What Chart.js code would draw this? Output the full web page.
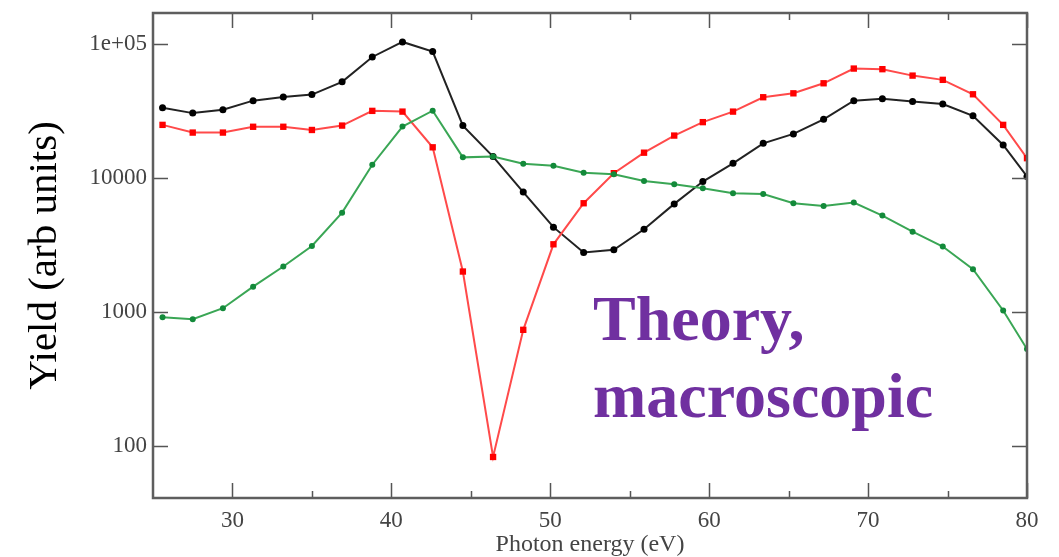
<!DOCTYPE html>
<html>
<head>
<meta charset="utf-8">
<title>Yield vs photon energy</title>
<script src="https://cdn.jsdelivr.net/npm/chart.js@4.4.1/dist/chart.umd.min.js"></script>
<style>
  html, body { margin: 0; padding: 0; background: #fff; }
  #wrap { width: 1059px; height: 557px; }
</style>
</head>
<body>
<div id="wrap"><canvas id="c" width="1059" height="557"></canvas></div>
<script>
// photon energy grid (eV)
const energies = [25.6, 27.5, 29.4, 31.3, 33.2, 35.0, 36.9, 38.8, 40.7, 42.6,
                  44.5, 46.4, 48.3, 50.2, 52.1, 54.0, 55.9, 57.8, 59.6, 61.5,
                  63.4, 65.3, 67.2, 69.1, 70.9, 72.8, 74.7, 76.6, 78.5, 80.0]

// yields (arb units)
const blackYield = [33600, 30600, 32400, 37900, 40400, 42100, 52400, 80300, 104000, 88100,
                    24700, 14500, 7870, 4310, 2790, 2920, 4160, 6430, 9440, 12900,
                    18200, 21400, 27500, 37900, 39100, 37300, 35800, 29200, 17700, 10300]
const redYield   = [25000, 21900, 21900, 24200, 24200, 22900, 24700, 31800, 31400, 17000,
                    2010, 83, 738, 3210, 6500, 10900, 15500, 20800, 26200, 31400,
                    40200, 43000, 51100, 65800, 65100, 58300, 54200, 42300, 25000, 14100]
const greenYield = [918, 887, 1070, 1550, 2190, 3120, 5530, 12600, 24300, 31900,
                    14300, 14500, 12800, 12400, 11000, 10700, 9540, 9020, 8410, 7720,
                    7630, 6500, 6210, 6580, 5260, 3990, 3090, 2090, 1030, 530]

const xMajorTicks = [30, 40, 50, 60, 70, 80]
const xMinorTicks = [35, 45, 55, 65, 75]
const yMajorTicks = [100, 1000, 10000, 100000]
const yTickLabels = ['100', '1000', '10000', '1e+05']

const serif = '"Liberation Serif", "DejaVu Serif", serif'

function pts(ys) {
  return energies.map((x, i) => ({ x: x, y: ys[i] }))
}

// inward tick marks + frame, grace style
const frameTicks = {
  id: 'frameTicks',
  afterDraw(chart) {
    const ctx = chart.ctx
    const a = chart.chartArea
    const xs = chart.scales.x
    const ys = chart.scales.y
    ctx.save()
    ctx.strokeStyle = '#555'
    ctx.lineWidth = 1.5
    ctx.beginPath()
    xMajorTicks.forEach(v => {
      const px = Math.round(xs.getPixelForValue(v)) + 0.5
      ctx.moveTo(px, a.bottom); ctx.lineTo(px, a.bottom - 15)
      ctx.moveTo(px, a.top); ctx.lineTo(px, a.top + 15)
    })
    xMinorTicks.forEach(v => {
      const px = Math.round(xs.getPixelForValue(v)) + 0.5
      ctx.moveTo(px, a.bottom); ctx.lineTo(px, a.bottom - 7)
      ctx.moveTo(px, a.top); ctx.lineTo(px, a.top + 7)
    })
    yMajorTicks.forEach(v => {
      const py = Math.round(ys.getPixelForValue(v)) + 0.5
      ctx.moveTo(a.left, py); ctx.lineTo(a.left + 15, py)
      ctx.moveTo(a.right, py); ctx.lineTo(a.right - 15, py)
    })
    ctx.stroke()

    ctx.lineWidth = 2.5
    ctx.strokeStyle = '#5e5e5e'
    ctx.strokeRect(a.left, a.top, a.right - a.left, a.bottom - a.top)

    // annotation
    ctx.fillStyle = '#7030a0'
    ctx.font = 'bold 64px ' + serif
    ctx.textAlign = 'left'
    ctx.textBaseline = 'alphabetic'
    ctx.fillText('Theory,', 593, 340)
    ctx.fillText('macroscopic', 593, 417)
    ctx.restore()
  }
}

new Chart(document.getElementById('c'), {
  type: 'line',
  data: {
    datasets: [
      {
        label: 'green', data: pts(greenYield),
        borderColor: '#3aa655', backgroundColor: '#138a3a',
        borderWidth: 2, pointRadius: 3, pointBorderWidth: 0, tension: 0
      },
      {
        label: 'red', data: pts(redYield),
        borderColor: '#ff4a4a', backgroundColor: '#ff0000',
        borderWidth: 2, pointStyle: 'rect', pointRadius: 4.5, pointBorderWidth: 0, tension: 0
      },
      {
        label: 'black', data: pts(blackYield),
        borderColor: '#222', backgroundColor: '#000',
        borderWidth: 2, pointRadius: 3.5, pointBorderWidth: 0, tension: 0
      }
    ]
  },
  options: {
    responsive: false,
    animation: false,
    layout: { padding: { top: 13, right: 32, left: 0, bottom: 0 } },
    plugins: { legend: { display: false }, tooltip: { enabled: false } },
    scales: {
      x: {
        type: 'linear', min: 25, max: 80,
        grid: { display: false, drawTicks: false },
        border: { display: false },
        afterBuildTicks: s => { s.ticks = xMajorTicks.map(v => ({ value: v })) },
        afterFit: s => { s.height = 59; s.paddingLeft = 0; s.paddingRight = 0 },
        ticks: { padding: 9, color: '#444', font: { family: serif, size: 23 } },
        title: {
          display: true, text: 'Photon energy (eV)', color: '#444',
          padding: 0, font: { family: serif, size: 24, lineHeight: 1 }
        }
      },
      y: {
        type: 'logarithmic', min: 41, max: 171000,
        grid: { display: false, drawTicks: false },
        border: { display: false },
        afterBuildTicks: s => { s.ticks = yMajorTicks.map(v => ({ value: v })) },
        afterFit: s => { s.width = 153; s.paddingTop = 0; s.paddingBottom = 0 },
        ticks: {
          padding: 6, color: '#444', font: { family: serif, size: 23 },
          callback: v => yTickLabels[yMajorTicks.indexOf(v)]
        },
        title: {
          display: true, text: 'Yield (arb units)', color: '#000',
          padding: { top: 21, bottom: 0 }, font: { family: serif, size: 41 }
        }
      }
    }
  },
  plugins: [frameTicks]
})
</script>
</body>
</html>
